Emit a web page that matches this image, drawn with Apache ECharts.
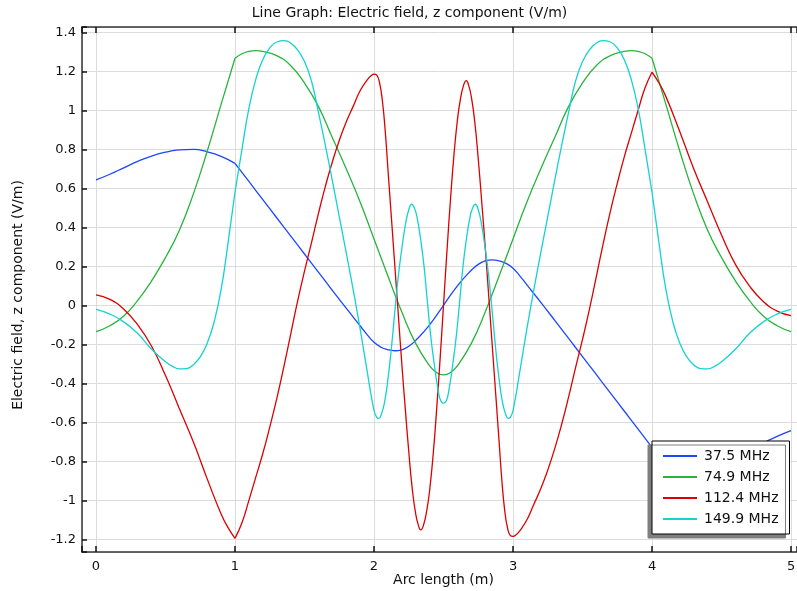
<!DOCTYPE html>
<html>
<head>
<meta charset="utf-8">
<script src="https://cdn.jsdelivr.net/npm/echarts@6/dist/echarts.min.js"></script>
<style>
html,body{margin:0;padding:0;background:#fff;overflow:hidden;}
#chart{width:797px;height:591px;}
</style>
</head>
<body>
<div id="chart"></div>
<script>
// ---- data ----
var seriesNames = ['37.5 MHz', '74.9 MHz', '112.4 MHz', '149.9 MHz'];
var xTicks = [0, 1, 2, 3, 4, 5];
var yTicks = [-1.2, -1, -0.8, -0.6, -0.4, -0.2, 0, 0.2, 0.4, 0.6, 0.8, 1, 1.2, 1.4];
var kinkX = [1, 4]; // arc-length positions where the path has corners

var blueX = [0,0.1,0.2,0.3,0.4,0.5,0.6,0.7,0.8,0.9,1.0,1.1,1.2,1.3,1.4,1.5,1.6,1.7,1.8,1.9,1.95,2.0,2.05,2.1,2.15,2.2,2.25,2.3,2.4,2.5,
  2.6,2.7,2.75,2.8,2.85,2.9,2.95,3.0,3.05,3.1,3.2,3.3,3.4,3.5,3.6,3.7,3.8,3.9,4.0,4.1,4.2,4.3,4.4,4.5,4.6,4.7,4.8,4.9,5.0];
var blueY = [0.643,0.672,0.705,0.738,0.765,0.785,0.797,0.799,0.787,0.764,0.728,0.635,0.542,0.449,0.356,0.263,0.17,0.077,-0.015,-0.105,-0.15,-0.19,-0.215,-0.228,-0.233,-0.228,-0.21,-0.18,-0.10,0,
  0.10,0.18,0.21,0.228,0.233,0.228,0.215,0.19,0.15,0.105,0.015,-0.077,-0.17,-0.263,-0.356,-0.449,-0.542,-0.635,-0.728,-0.764,-0.787,-0.799,-0.797,-0.785,-0.765,-0.738,-0.705,-0.672,-0.643];

var greenX = [0,0.1,0.2,0.3,0.4,0.5,0.6,0.7,0.8,0.9,1.0,1.05,1.1,1.15,1.2,1.3,1.4,1.5,1.6,1.7,1.8,1.9,2.0,2.1,2.2,2.3,2.4,2.45,2.5,
  2.55,2.6,2.7,2.8,2.9,3.0,3.1,3.2,3.3,3.4,3.5,3.6,3.7,3.8,3.85,3.9,3.95,4.0,4.1,4.2,4.3,4.4,4.5,4.6,4.7,4.8,4.9,5.0];
var greenY = [-0.135,-0.105,-0.055,0.025,0.125,0.245,0.385,0.57,0.79,1.03,1.267,1.29,1.302,1.306,1.302,1.28,1.23,1.14,1.02,0.86,0.70,0.53,0.34,0.15,-0.035,-0.195,-0.31,-0.345,-0.357,
  -0.345,-0.31,-0.195,-0.035,0.15,0.34,0.53,0.70,0.86,1.02,1.14,1.23,1.28,1.302,1.306,1.302,1.29,1.267,1.03,0.79,0.57,0.385,0.245,0.125,0.025,-0.055,-0.105,-0.135];

var redX = [0,0.1,0.2,0.3,0.4,0.5,0.6,0.7,0.8,0.9,0.95,1.0,1.05,1.1,1.15,1.2,1.25,1.3,1.35,1.4,1.45,1.5,1.55,1.6,1.65,1.7,1.75,1.8,1.85,1.9,1.95,1.98,2.0,2.02,2.04,2.06,2.08,2.1,2.125,2.15,2.175,2.2,2.225,2.25,2.275,2.3,2.32,2.336,2.355,2.38,2.4,2.425,2.45,2.475,2.5,
  2.525,2.55,2.575,2.6,2.62,2.645,2.664,2.68,2.7,2.725,2.75,2.775,2.8,2.825,2.85,2.875,2.9,2.92,2.94,2.96,2.98,3.0,3.02,3.05,3.1,3.15,3.2,3.25,3.3,3.35,3.4,3.45,3.5,3.55,3.6,3.65,3.7,3.75,3.8,3.85,3.9,3.95,4.0,4.05,4.1,4.2,4.3,4.4,4.5,4.6,4.7,4.8,4.9,5.0];
var redY = [0.053,0.03,-0.02,-0.10,-0.21,-0.36,-0.53,-0.70,-0.89,-1.07,-1.14,-1.195,-1.115,-1.00,-0.88,-0.76,-0.625,-0.48,-0.32,-0.15,0.02,0.175,0.32,0.47,0.61,0.735,0.845,0.94,1.02,1.10,1.155,1.178,1.185,1.18,1.14,1.05,0.90,0.70,0.45,0.20,-0.05,-0.30,-0.53,-0.75,-0.94,-1.07,-1.13,-1.152,-1.13,-1.05,-0.95,-0.77,-0.54,-0.28,0,
  0.28,0.54,0.77,0.95,1.05,1.13,1.152,1.13,1.07,0.94,0.75,0.53,0.30,0.05,-0.20,-0.45,-0.70,-0.90,-1.05,-1.14,-1.18,-1.185,-1.178,-1.155,-1.10,-1.02,-0.94,-0.845,-0.735,-0.61,-0.47,-0.32,-0.175,-0.02,0.15,0.32,0.48,0.625,0.76,0.88,1.00,1.115,1.195,1.14,1.07,0.89,0.70,0.53,0.36,0.21,0.10,0.02,-0.03,-0.053];

var cyanX = [0,0.1,0.2,0.3,0.4,0.5,0.55,0.6,0.65,0.7,0.75,0.8,0.85,0.9,0.95,1.0,1.05,1.1,1.15,1.2,1.25,1.3,1.355,1.4,1.45,1.5,1.55,1.6,1.65,1.7,1.75,1.8,1.85,1.9,1.95,2.0,2.02,2.035,2.05,2.075,2.1,2.125,2.15,2.175,2.2,2.225,2.25,2.271,2.29,2.31,2.335,2.36,2.385,2.41,2.435,2.46,2.48,2.5,
  2.52,2.54,2.565,2.59,2.615,2.64,2.665,2.69,2.71,2.729,2.75,2.775,2.8,2.825,2.85,2.875,2.9,2.925,2.95,2.965,2.98,3.0,3.05,3.1,3.15,3.2,3.25,3.3,3.35,3.4,3.45,3.5,3.55,3.6,3.645,3.7,3.75,3.8,3.85,3.9,3.95,4.0,4.05,4.1,4.15,4.2,4.25,4.3,4.35,4.4,4.45,4.5,4.6,4.7,4.8,4.9,5.0];
var cyanY = [-0.021,-0.045,-0.085,-0.145,-0.225,-0.29,-0.313,-0.326,-0.325,-0.305,-0.265,-0.195,-0.085,0.08,0.32,0.58,0.80,1.01,1.16,1.26,1.32,1.35,1.357,1.345,1.31,1.25,1.15,0.99,0.82,0.64,0.455,0.27,0.08,-0.12,-0.335,-0.54,-0.575,-0.58,-0.565,-0.50,-0.38,-0.22,-0.03,0.15,0.29,0.41,0.49,0.519,0.50,0.45,0.34,0.20,0.01,-0.17,-0.31,-0.43,-0.49,-0.503,
  -0.49,-0.43,-0.31,-0.17,0.01,0.20,0.34,0.45,0.50,0.519,0.49,0.41,0.29,0.15,-0.03,-0.22,-0.38,-0.50,-0.565,-0.58,-0.575,-0.54,-0.335,-0.12,0.08,0.27,0.455,0.64,0.82,0.99,1.15,1.25,1.31,1.345,1.357,1.35,1.32,1.26,1.16,1.01,0.80,0.58,0.32,0.08,-0.085,-0.195,-0.265,-0.305,-0.325,-0.326,-0.313,-0.29,-0.225,-0.145,-0.085,-0.045,-0.021];

var seriesColors = ['#1c46ff', '#27b43c', '#dc0000', '#14d2d2'];

// ---- build ----
function pairs(xs, ys) { return xs.map(function (x, i) { return [x, ys[i]]; }); }
// split a curve into pieces at the corner positions (corner point shared by neighbours)
function splitAtKinks(d) {
  var pieces = [[]];
  d.forEach(function (p) {
    pieces[pieces.length - 1].push(p);
    if (kinkX.some(function (k) { return Math.abs(p[0] - k) < 1e-9; })) pieces.push([p]);
  });
  return pieces.filter(function (pc) { return pc.length > 1; });
}
var allData = [pairs(blueX, blueY), pairs(greenX, greenY), pairs(redX, redY), pairs(cyanX, cyanY)];

var X_MIN = -0.1007, X_MAX = 5.043, Y_MIN = -1.265, Y_MAX = 1.427;
function isTick(list, v) { return list.some(function (t) { return Math.abs(t - v) < 1e-6; }); }
var FONT = 'DejaVu Sans';
var LINE_ICON = 'path://M0,0 L34,0 L34,2 L0,2 Z';

var series = [];
allData.forEach(function (d, i) {
  splitAtKinks(d).forEach(function (piece) {
    series.push({
      name: seriesNames[i], type: 'line', data: piece,
      showSymbol: false, symbol: 'none', smooth: 0.5, clip: true,
      lineStyle: { color: seriesColors[i], width: 1.3 },
      itemStyle: { color: seriesColors[i] },
      z: 2 + i
    });
  });
});

var chart = echarts.init(document.getElementById('chart'), null, { renderer: 'canvas' });
var axisLineStyle = { color: '#333', width: 1.5 };
var gridLine = { show: true, lineStyle: { color: '#dcdcdc', width: 1 } };

chart.setOption({
  animation: false,
  backgroundColor: '#fff',
  grid: { left: 82, top: 27, width: 715, height: 525, containLabel: false, outerBoundsMode: 'none' },
  graphic: [
    { type: 'text', x: 409.5, y: 13, style: { text: 'Line Graph: Electric field, z component (V/m)', fontFamily: FONT, fontSize: 14, fill: '#111', textAlign: 'center', textVerticalAlign: 'middle' } },
    { type: 'text', x: 443.5, y: 580, style: { text: 'Arc length (m)', fontFamily: FONT, fontSize: 14, fill: '#111', textAlign: 'center', textVerticalAlign: 'middle' } },
    { type: 'text', x: 18, y: 295, rotation: Math.PI / 2, style: { text: 'Electric field, z component (V/m)', fontFamily: FONT, fontSize: 14, fill: '#111', textAlign: 'center', textVerticalAlign: 'middle' } }
  ],
  legend: {
    data: seriesNames.map(function (n) { return { name: n, icon: LINE_ICON }; }),
    orient: 'vertical',
    left: 652, top: 441,
    padding: [8, 11, 8, 11],
    itemWidth: 34, itemHeight: 14, itemGap: 7,
    backgroundColor: '#fff',
    borderColor: '#000', borderWidth: 1,
    shadowColor: '#7f7f7f', shadowBlur: 0, shadowOffsetX: -4, shadowOffsetY: 4,
    textStyle: { fontFamily: FONT, fontSize: 14, color: '#111', padding: [0, 0, 0, 2] }
  },
  xAxis: [
    {
      type: 'value', min: X_MIN, max: X_MAX, splitNumber: 5, minInterval: 1, maxInterval: 1,
      axisLine: { show: true, onZero: false, lineStyle: axisLineStyle },
      axisTick: { show: true, inside: true, length: 6, lineStyle: { color: '#111', width: 1.5 } },
      axisLabel: { fontFamily: FONT, fontSize: 13, color: '#111', margin: 8, hideOverlap: false,
        formatter: function (v) { return isTick(xTicks, v) ? String(Math.round(v)) : ''; } },
      splitLine: gridLine
    },
    {
      type: 'value', position: 'top', min: X_MIN, max: X_MAX, splitNumber: 5, minInterval: 1, maxInterval: 1,
      axisLine: { show: true, onZero: false, lineStyle: axisLineStyle },
      axisTick: { show: true, inside: true, length: 6, lineStyle: { color: '#111', width: 1.5 } },
      axisLabel: { show: false }, splitLine: { show: false }
    }
  ],
  yAxis: [
    {
      type: 'value', min: Y_MIN, max: Y_MAX, splitNumber: 13, minInterval: 0.2, maxInterval: 0.2,
      axisLine: { show: true, onZero: false, lineStyle: axisLineStyle },
      axisTick: { show: true, inside: true, length: 5, lineStyle: { color: '#111', width: 1.5 } },
      axisLabel: { fontFamily: FONT, fontSize: 13, color: '#111', margin: 6,
        formatter: function (v) { if (!isTick(yTicks, v)) return ''; var r = Math.round(v * 10) / 10; return String(r); } },
      splitLine: gridLine
    }
  ],
  series: series
});
</script>
</body>
</html>
